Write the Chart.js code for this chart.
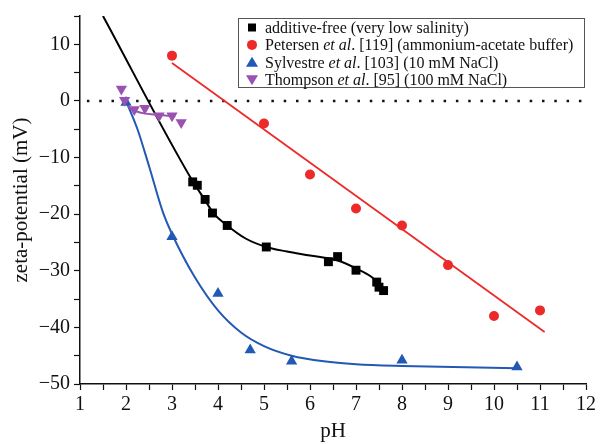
<!DOCTYPE html>
<html>
<head>
<meta charset="utf-8">
<script src="https://cdn.jsdelivr.net/npm/chart.js@4.4.1/dist/chart.umd.min.js"></script>
<style>
  html, body { margin: 0; padding: 0; background: #fff; }
  #wrap { width: 600px; height: 444px; }
</style>
</head>
<body>
<div id="wrap"><canvas id="zetaChart" width="600" height="444"></canvas></div>
<script>
// measured zeta-potentials
let freePH   = [3.45, 3.55, 3.72, 3.88, 4.2, 5.05, 6.4, 6.6, 7.0, 7.45, 7.5, 7.6];
let freeZeta = [-14.3, -14.9, -17.4, -19.8, -22.0, -25.8, -28.4, -27.5, -29.9, -32.0, -32.9, -33.5];

let petersenPH   = [3, 5, 6, 7, 8, 9, 10, 11];
let petersenZeta = [8, -4, -13, -19, -22, -29, -38, -37];

let sylvestrePH   = [2.0, 3.0, 4.0, 4.7, 5.6, 8.0, 10.5];
let sylvestreZeta = [-0.3, -24, -34, -44, -46, -45.8, -47];

let thompsonPH   = [1.9, 1.97, 2.18, 2.41, 2.72, 3.0, 3.2];
let thompsonZeta = [2.1, 0.1, -1.5, -1.3, -2.6, -2.6, -3.8];

// fitted trend curves
let freeFitPH   = [1.5, 3.45, 3.7, 3.9, 4.2, 4.6, 5.05, 5.5, 6.0, 6.6, 7.0, 7.4, 7.65];
let freeFitZeta = [15, -14.2, -17.3, -19.8, -22.0, -24.3, -25.8, -26.6, -27.3, -28.2, -29.6, -31.5, -33.9];

let petersenFitPH   = [3.0, 11.1];
let petersenFitZeta = [6.7, -40.8];

let sylvestreFitPH   = [2.0, 2.25, 2.5, 2.8, 3.0, 3.5, 4.0, 4.5, 5.0, 5.6, 6.3, 7.0, 8.0, 10.5];
let sylvestreFitZeta = [0, -5, -11.5, -19.6, -23.5, -31.2, -37.0, -40.9, -43.3, -45.0, -46.0, -46.5, -46.8, -47.2];

let thompsonFitPH   = [2.0, 2.05, 2.12, 2.25, 2.4, 2.6, 2.8, 3.07];
let thompsonFitZeta = [0, -0.9, -1.5, -1.9, -2.2, -2.4, -2.55, -2.75];

let zeroPH   = [1.15, 12];
let zeroZeta = [0, 0];

let xTicks = [1, 2, 3, 4, 5, 6, 7, 8, 9, 10, 11, 12];
let yTicks = [-50, -40, -30, -20, -10, 0, 10];

let legendLabels = [
  [['additive-free (very low salinity)', false]],
  [['Petersen ', false], ['et al', true], ['. [119] (ammonium-acetate buffer)', false]],
  [['Sylvestre ', false], ['et al', true], ['. [103] (10 mM NaCl)', false]],
  [['Thompson ', false], ['et al', true], ['. [95] (100 mM NaCl)', false]]
];

const BLACK = '#000000';
const RED = '#ec2a2a';
const BLUE = '#2159b4';
const PURPLE = '#9a52b2';
const SERIF = '"Liberation Serif", "Times New Roman", serif';

function toPoints(xs, ys) {
  return xs.map((x, i) => ({ x: x, y: ys[i] }));
}

function fitLine(xs, ys, color, order, width) {
  return {
    data: toPoints(xs, ys),
    showLine: true,
    borderColor: color,
    borderWidth: width,
    pointRadius: 0,
    cubicInterpolationMode: 'monotone',
    order: order
  };
}

function markers(xs, ys, color, style, radius, rotation, order) {
  return {
    data: toPoints(xs, ys),
    showLine: false,
    pointStyle: style,
    pointRadius: radius,
    pointRotation: rotation,
    pointBackgroundColor: color,
    pointBorderColor: color,
    pointBorderWidth: 0,
    order: order
  };
}

// marker shapes for the legend box
function drawMarker(ctx, style, x, y, color) {
  ctx.save();
  ctx.fillStyle = color;
  ctx.beginPath();
  if (style === 'rect') {
    ctx.rect(x - 4, y - 4, 8, 8);
  } else if (style === 'circle') {
    ctx.arc(x, y, 5, 0, Math.PI * 2);
  } else if (style === 'up') {
    ctx.moveTo(x, y - 5.5);
    ctx.lineTo(x + 6, y + 4.5);
    ctx.lineTo(x - 6, y + 4.5);
  } else {
    ctx.moveTo(x, y + 5.5);
    ctx.lineTo(x + 6, y - 4.5);
    ctx.lineTo(x - 6, y - 4.5);
  }
  ctx.closePath();
  ctx.fill();
  ctx.restore();
}

const legendBox = {
  id: 'legendBox',
  afterDraw(chart) {
    let ctx = chart.ctx;
    let left = 238, top = 18, w = 346, h = 69, rowH = 17.4;
    let styles = ['rect', 'circle', 'up', 'down'];
    let colors = [BLACK, RED, BLUE, PURPLE];
    ctx.save();
    ctx.fillStyle = '#fff';
    ctx.fillRect(left, top, w, h);
    ctx.strokeStyle = '#555';
    ctx.lineWidth = 1;
    ctx.strokeRect(left + 0.5, top + 0.5, w, h);
    ctx.textBaseline = 'middle';
    legendLabels.forEach((parts, i) => {
      let cy = top + 9.5 + i * rowH;
      drawMarker(ctx, styles[i], left + 14, cy, colors[i]);
      let tx = left + 27;
      parts.forEach(([text, italic]) => {
        ctx.font = (italic ? 'italic ' : '') + '16px ' + SERIF;
        ctx.fillStyle = '#111';
        ctx.fillText(text, tx, cy + 1);
        tx += ctx.measureText(text).width;
      });
    });
    ctx.restore();
  }
};

let ctx = document.getElementById('zetaChart').getContext('2d');
let zetaChart = new Chart(ctx, {
  type: 'scatter',
  data: {
    datasets: [
      markers(thompsonPH, thompsonZeta, PURPLE, 'triangle', 6.5, 180, 0),
      markers(sylvestrePH, sylvestreZeta, BLUE, 'triangle', 6.5, 0, 1),
      markers(freePH, freeZeta, BLACK, 'rect', 6.3, 0, 2),
      markers(petersenPH, petersenZeta, RED, 'circle', 5, 0, 3),
      fitLine(thompsonFitPH, thompsonFitZeta, PURPLE, 5, 2),
      fitLine(sylvestreFitPH, sylvestreFitZeta, BLUE, 6, 2),
      fitLine(freeFitPH, freeFitZeta, BLACK, 7, 2),
      fitLine(petersenFitPH, petersenFitZeta, RED, 8, 1.8),
      {
        data: toPoints(zeroPH, zeroZeta),
        showLine: true,
        borderColor: '#111',
        borderWidth: 2.5,
        borderDash: [2.5, 9.8],
        pointRadius: 0,
        order: 10
      }
    ]
  },
  options: {
    responsive: false,
    animation: false,
    layout: { padding: { top: 14, right: 14, left: 0, bottom: 0 } },
    plugins: {
      legend: { display: false },
      tooltip: { enabled: false }
    },
    scales: {
      x: {
        type: 'linear',
        min: 1,
        max: 12,
        afterBuildTicks: (scale) => {
          let t = [];
          for (let v = 1; v <= 12; v += 0.5) t.push({ value: v });
          scale.ticks = t;
        },
        afterFit: (scale) => { scale.height = 60; },
        ticks: {
          autoSkip: false,
          maxRotation: 0,
          padding: 3,
          color: '#111',
          font: { family: SERIF, size: 20 },
          callback: (v) => xTicks.includes(v) ? String(v) : ''
        },
        grid: { drawOnChartArea: false, tickLength: 6, color: '#111', tickWidth: 1.2 },
        border: { color: '#111', width: 1.5 },
        title: {
          display: true,
          text: 'pH',
          color: '#111',
          font: { family: SERIF, size: 21 },
          padding: { top: 0, bottom: 0 }
        }
      },
      y: {
        type: 'linear',
        min: -50,
        max: 15,
        afterBuildTicks: (scale) => {
          let t = [];
          for (let v = -50; v <= 15; v += 5) t.push({ value: v });
          scale.ticks = t;
        },
        afterFit: (scale) => { scale.width = 80; },
        ticks: {
          autoSkip: false,
          padding: 4,
          color: '#111',
          font: { family: SERIF, size: 20 },
          callback: (v) => yTicks.includes(v) ? String(v).replace('-', '\u2212') : ''
        },
        grid: { drawOnChartArea: false, tickLength: 6, color: '#111', tickWidth: 1.2 },
        border: { color: '#111', width: 1.5 },
        title: {
          display: true,
          text: 'zeta-potential (mV)',
          color: '#111',
          font: { family: SERIF, size: 21 },
          padding: { top: 9, bottom: 0 }
        }
      }
    }
  },
  plugins: [legendBox]
});
</script>
</body>
</html>
